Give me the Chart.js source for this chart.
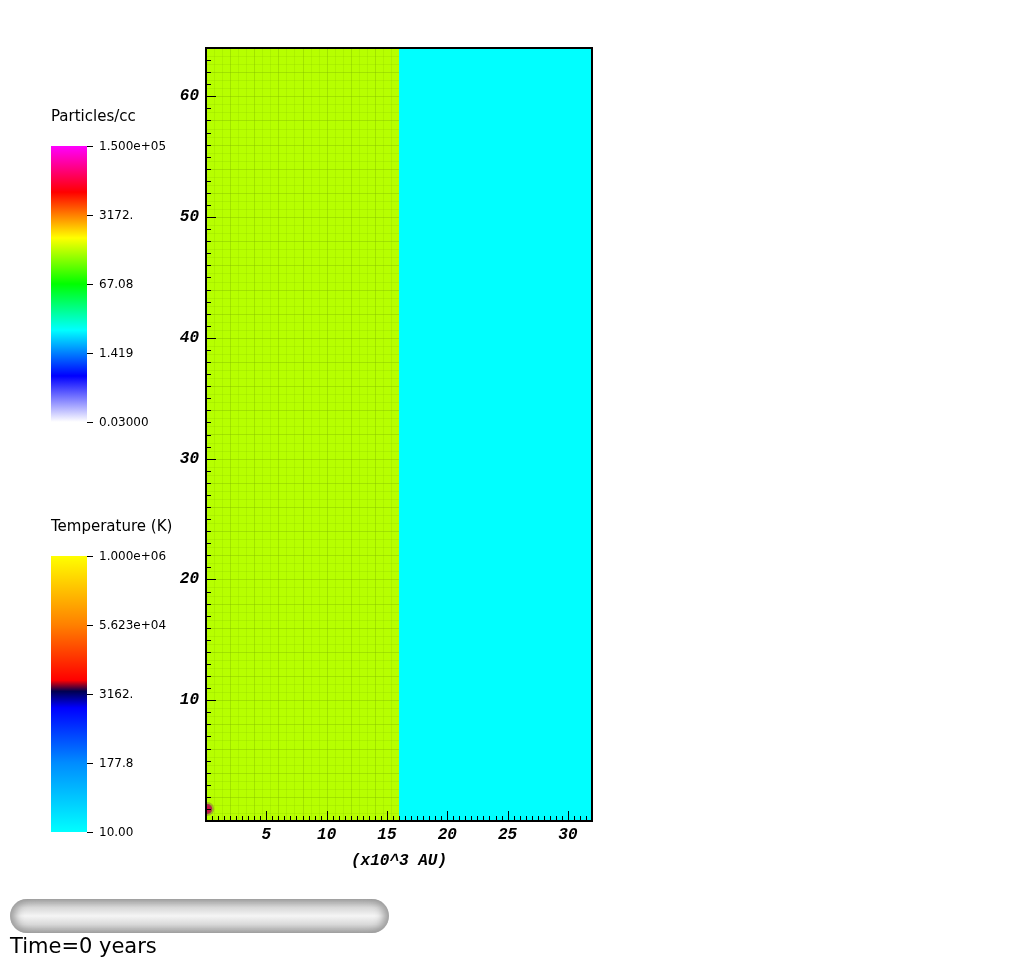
<!DOCTYPE html>
<html>
<head>
<meta charset="utf-8">
<script src="https://cdn.jsdelivr.net/npm/chart.js@4"></script>
<style>
  body { margin: 0; background: #fff; width: 1027px; height: 967px; overflow: hidden; position: relative; font-family: 'DejaVu Sans', sans-serif; }
  #myChart { position: absolute; left: 0; top: 0; }
  .cbTitle { position: absolute; font-size: 15px; color: #000; white-space: nowrap; }
  .cbBar { position: absolute; width: 36px; }
  .cbTick { position: absolute; width: 6px; height: 1px; background: #000; }
  .cbLabel { position: absolute; font-size: 12px; color: #000; white-space: nowrap; line-height: 14px; }
  #slider { position: absolute; left: 10px; top: 899px; width: 379px; height: 34px; border-radius: 17px;
    background: linear-gradient(to bottom, #a0a0a0 0%, #d8d8d8 25%, #f5f5f5 50%, #d8d8d8 75%, #a0a0a0 100%);
    box-shadow: inset 10px 0 9px -5px #9a9a9a, inset -10px 0 9px -5px #9a9a9a; }
  #timeText { position: absolute; left: 10px; top: 934px; font-size: 21px; color: #000; white-space: nowrap; }
</style>
</head>
<body>
<canvas id="myChart" width="1027" height="967"></canvas>
<div id="legends"></div>
<div id="slider"></div>
<div id="timeText">Time=0 years</div>
<script>
// domain of the plot (x10^3 AU)
var xRange = [0, 32];
var yRange = [0, 64];
// two uniform regions: x edges and density (particles/cc) in each
var regionEdges = [0, 16, 32];
var regionDensity = [425, 5.13];
// small hot source near the origin
var sourceX = [0.1];
var sourceY = [1.0];
// axis labels
var xTicks = [5, 10, 15, 20, 25, 30];
var yTicks = [10, 20, 30, 40, 50, 60];
// colour bar labels
var densityLabels = ['1.500e+05', '3172.', '67.08', '1.419', '0.03000'];
var densityMinMax = [0.03, 1.5e5];
var tempLabels = ['1.000e+06', '5.623e+04', '3162.', '177.8', '10.00'];
// mesh spacing inside the dense region
var meshFine = 2 / 3;
var meshCoarse = 2;

// colour maps (fraction from bottom -> colour)
var densityStops = [[0, [255, 255, 255]], [1/6, [0, 0, 255]], [2/6, [0, 255, 255]], [3/6, [0, 255, 0]],
                    [4/6, [255, 255, 0]], [5/6, [255, 0, 0]], [1, [255, 0, 255]]];
var tempStops = [[0, [0, 255, 255]], [0.25, [0, 140, 255]], [0.45, [0, 0, 255]], [0.51, [0, 0, 80]],
                 [0.55, [255, 0, 0]], [0.75, [255, 128, 0]], [1, [255, 255, 0]]];

function cssGradient(stops) {
    return 'linear-gradient(to top, ' + stops.map(function (s) {
        return 'rgb(' + s[1].join(',') + ') ' + (s[0] * 100).toFixed(1) + '%';
    }).join(', ') + ')';
}
function densityColor(v) {
    var lo = Math.log10(densityMinMax[0]), hi = Math.log10(densityMinMax[1]);
    var f = Math.min(1, Math.max(0, (Math.log10(v) - lo) / (hi - lo)));
    for (var i = 1; i < densityStops.length; i++) {
        if (f <= densityStops[i][0]) {
            var a = densityStops[i - 1], b = densityStops[i];
            var t = (f - a[0]) / (b[0] - a[0]);
            var c = a[1].map(function (x, k) { return Math.round(x + (b[1][k] - x) * t); });
            return 'rgb(' + c.join(',') + ')';
        }
    }
    return 'rgb(255,0,255)';
}

// colour bar legends
function addLegend(title, labels, stops, top) {
    var box = document.getElementById('legends');
    var t = document.createElement('div');
    t.className = 'cbTitle'; t.textContent = title;
    t.style.left = '51px'; t.style.top = (top - 39) + 'px';
    box.appendChild(t);
    var bar = document.createElement('div');
    bar.className = 'cbBar'; bar.style.left = '51px'; bar.style.top = top + 'px';
    bar.style.height = '276px'; bar.style.background = cssGradient(stops);
    box.appendChild(bar);
    labels.forEach(function (lab, i) {
        var y = top + i * 276 / (labels.length - 1);
        var tk = document.createElement('div');
        tk.className = 'cbTick'; tk.style.left = '87px'; tk.style.top = Math.round(y) + 'px';
        box.appendChild(tk);
        var l = document.createElement('div');
        l.className = 'cbLabel'; l.textContent = lab;
        l.style.left = '99px'; l.style.top = Math.round(y - 7) + 'px';
        box.appendChild(l);
    });
}
addLegend('Particles/cc', densityLabels, densityStops, 146);
addLegend('Temperature (K)', tempLabels, tempStops, 556);

// data for the chart
var datasets = [
    {   // hot source, drawn last
        data: sourceX.map(function (x, i) { return {x: x, y: sourceY[i]}; }),
        showLine: false,
        pointRadius: 5,
        backgroundColor: 'rgb(205,15,70)',
        borderColor: 'rgba(130,80,80,0.4)',
        borderWidth: 4
    }
];
regionDensity.forEach(function (d, i) {
    datasets.push({
        data: [{x: regionEdges[i], y: yRange[1]}, {x: regionEdges[i + 1], y: yRange[1]}],
        showLine: true,
        fill: 'origin',
        backgroundColor: densityColor(d),
        borderWidth: 0,
        pointRadius: 0
    });
});

var monoFont = {family: "'Liberation Mono', 'DejaVu Sans Mono', monospace", size: 16, weight: 'bold', style: 'italic'};

// mesh lines, tick marks and frame drawn through the scales
var meshAndTicks = {
    id: 'meshAndTicks',
    afterDatasetDraw: function (chart, args) {
        if (args.index !== 1) return;
        var xs = chart.scales.x, ys = chart.scales.y, ctx = chart.ctx;
        var x0 = xs.getPixelForValue(regionEdges[0]), x1 = xs.getPixelForValue(regionEdges[1]);
        var yb = ys.getPixelForValue(yRange[0]), yt = ys.getPixelForValue(yRange[1]);
        ctx.save();
        ctx.lineWidth = 1;
        for (var v = meshFine; v < regionEdges[1] - 1e-6; v += meshFine) {
            var coarse = Math.abs(v / meshCoarse - Math.round(v / meshCoarse)) < 1e-6;
            ctx.strokeStyle = coarse ? 'rgba(120,175,0,0.35)' : 'rgba(120,175,0,0.16)';
            var px = Math.round(xs.getPixelForValue(v)) + 0.5;
            ctx.beginPath(); ctx.moveTo(px, yt); ctx.lineTo(px, yb); ctx.stroke();
        }
        for (var w = meshFine; w < yRange[1] - 1e-6; w += meshFine) {
            var coarseY = Math.abs(w / meshCoarse - Math.round(w / meshCoarse)) < 1e-6;
            ctx.strokeStyle = coarseY ? 'rgba(120,175,0,0.35)' : 'rgba(120,175,0,0.16)';
            var py = Math.round(ys.getPixelForValue(w)) + 0.5;
            ctx.beginPath(); ctx.moveTo(x0, py); ctx.lineTo(x1, py); ctx.stroke();
        }
        ctx.restore();
    },
    afterDraw: function (chart) {
        var xs = chart.scales.x, ys = chart.scales.y, ctx = chart.ctx, a = chart.chartArea;
        ctx.save();
        ctx.strokeStyle = '#000';
        ctx.lineWidth = 1;
        // x ticks every 0.5, long at labelled values
        for (var i = 1; i < xRange[1] * 2; i++) {
            var v = i / 2;
            var len = xTicks.indexOf(v) >= 0 ? 10 : 5;
            var px = Math.round(xs.getPixelForValue(v)) + 0.5;
            ctx.beginPath(); ctx.moveTo(px, a.bottom); ctx.lineTo(px, a.bottom - len); ctx.stroke();
        }
        // y ticks every 1, long at labelled values
        for (var j = 1; j < yRange[1]; j++) {
            var lenY = yTicks.indexOf(j) >= 0 ? 10 : 5;
            var py = Math.round(ys.getPixelForValue(j)) + 0.5;
            ctx.beginPath(); ctx.moveTo(a.left, py); ctx.lineTo(a.left + lenY, py); ctx.stroke();
        }
        ctx.lineWidth = 2;
        ctx.strokeRect(a.left, a.top, a.right - a.left, a.bottom - a.top);
        ctx.restore();
    }
};

//config for the chart
const config = {
    type: 'scatter',
    data: {datasets: datasets},
    options: {
        responsive: false,
        animation: false,
        events: [],
        layout: {padding: {left: 150, right: 435, top: 48, bottom: 86}},
        plugins: {legend: {display: false}, tooltip: {enabled: false}},
        scales: {
            x: {
                type: 'linear', min: xRange[0], max: xRange[1],
                grid: {display: false, drawTicks: false},
                border: {display: false},
                afterFit: function (s) { s.height = 60; },
                afterBuildTicks: function (s) { s.ticks = xTicks.map(function (v) { return {value: v}; }); },
                ticks: {color: '#000', font: monoFont, padding: 4, maxRotation: 0, autoSkip: false},
                title: {display: true, text: '(x10^3 AU)', color: '#000', font: monoFont, padding: {top: 4, bottom: 10}}
            },
            y: {
                type: 'linear', min: yRange[0], max: yRange[1],
                grid: {display: false, drawTicks: false},
                border: {display: false},
                afterFit: function (s) { s.width = 56; },
                afterBuildTicks: function (s) { s.ticks = yTicks.map(function (v) { return {value: v}; }); },
                ticks: {color: '#000', font: monoFont, padding: 7, autoSkip: false}
            }
        }
    },
    plugins: [meshAndTicks]
};
// render the chart using the configuration
const myChart = new Chart(document.getElementById('myChart'), config);
</script>
</body>
</html>
